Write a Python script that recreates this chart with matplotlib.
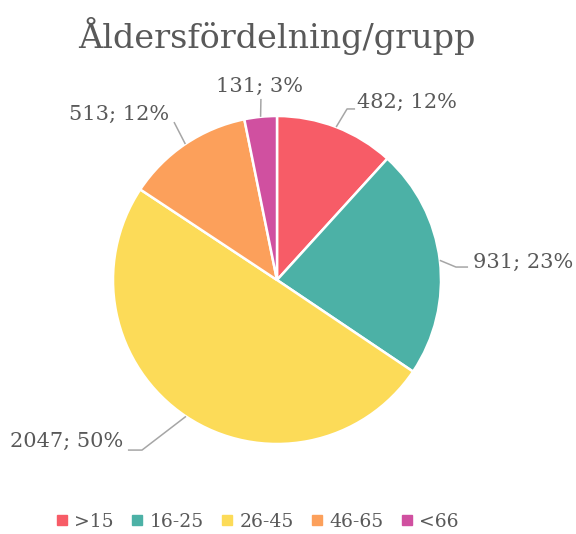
import matplotlib
matplotlib.use("Agg")
import matplotlib.pyplot as plt
from matplotlib.lines import Line2D
import numpy as np

categories = [">15", "16-25", "26-45", "46-65", "<66"]
values = [482, 931, 2047, 513, 131]
colors = ["#F75C67", "#4CB1A6", "#FCDB58", "#FCA05B", "#D050A0"]
title = "Åldersfördelning/grupp"

plt.rcParams['font.family'] = ['DejaVu Serif']
TXT = "#595959"
LINE = "#A6A6A6"

fig = plt.figure(figsize=(5.76, 5.34), dpi=100)
ax = fig.add_axes([113/576, 90/534, 328/576, 328/534])
wedges, _ = ax.pie(values, colors=colors, startangle=90, counterclock=False,
                   radius=1.0, wedgeprops=dict(edgecolor="white", linewidth=1.8))
ax.set_xlim(-1, 1)
ax.set_ylim(-1, 1)
ax.set_aspect('equal')
ax.axis('off')

total = sum(values)
labels = [f"{v}; {round(v/total*100):.0f}%" for v in values]

# label layout: (text x, text y, ha), leader points after the pie edge
layout = [
    (0.488, 1.085, 'left', [(0.427, 1.043), (0.476, 1.043)]),
    (1.195, 0.110, 'left', [(1.091, 0.079), (1.165, 0.079)]),
    (-0.939, -0.982, 'right', [(-0.823, -1.037), (-0.909, -1.037)]),
    (-0.659, 1.012, 'right', [(-0.628, 0.963)]),
    (-0.104, 1.183, 'center', [(-0.098, 1.104)]),
]

for w, lab, (tx, ty, ha, pts) in zip(wedges, labels, layout):
    mid = np.deg2rad((w.theta1 + w.theta2) / 2)
    ex, ey = np.cos(mid), np.sin(mid)
    xs = [ex] + [p[0] for p in pts]
    ys = [ey] + [p[1] for p in pts]
    ax.plot(xs, ys, color=LINE, lw=1.1, clip_on=False, solid_capstyle='butt')
    ax.text(tx, ty, lab, ha=ha, va='center', fontsize=15, color=TXT, clip_on=False)

fig.text(277/576, 1 - 48/534, title, ha='center', va='baseline', fontsize=24, color=TXT)

handles = [Line2D([], [], marker='s', linestyle='none', markersize=7,
                  markerfacecolor=c, markeredgecolor=c) for c in colors]
leg = fig.legend(handles, categories, loc='center', bbox_to_anchor=(257/576, 1 - 522/534),
                 ncol=5, frameon=False, fontsize=13.5, handlelength=0.7, handletextpad=0.3,
                 columnspacing=0.9, labelcolor=TXT, borderpad=0)

fig.savefig("out.png", dpi=100)
